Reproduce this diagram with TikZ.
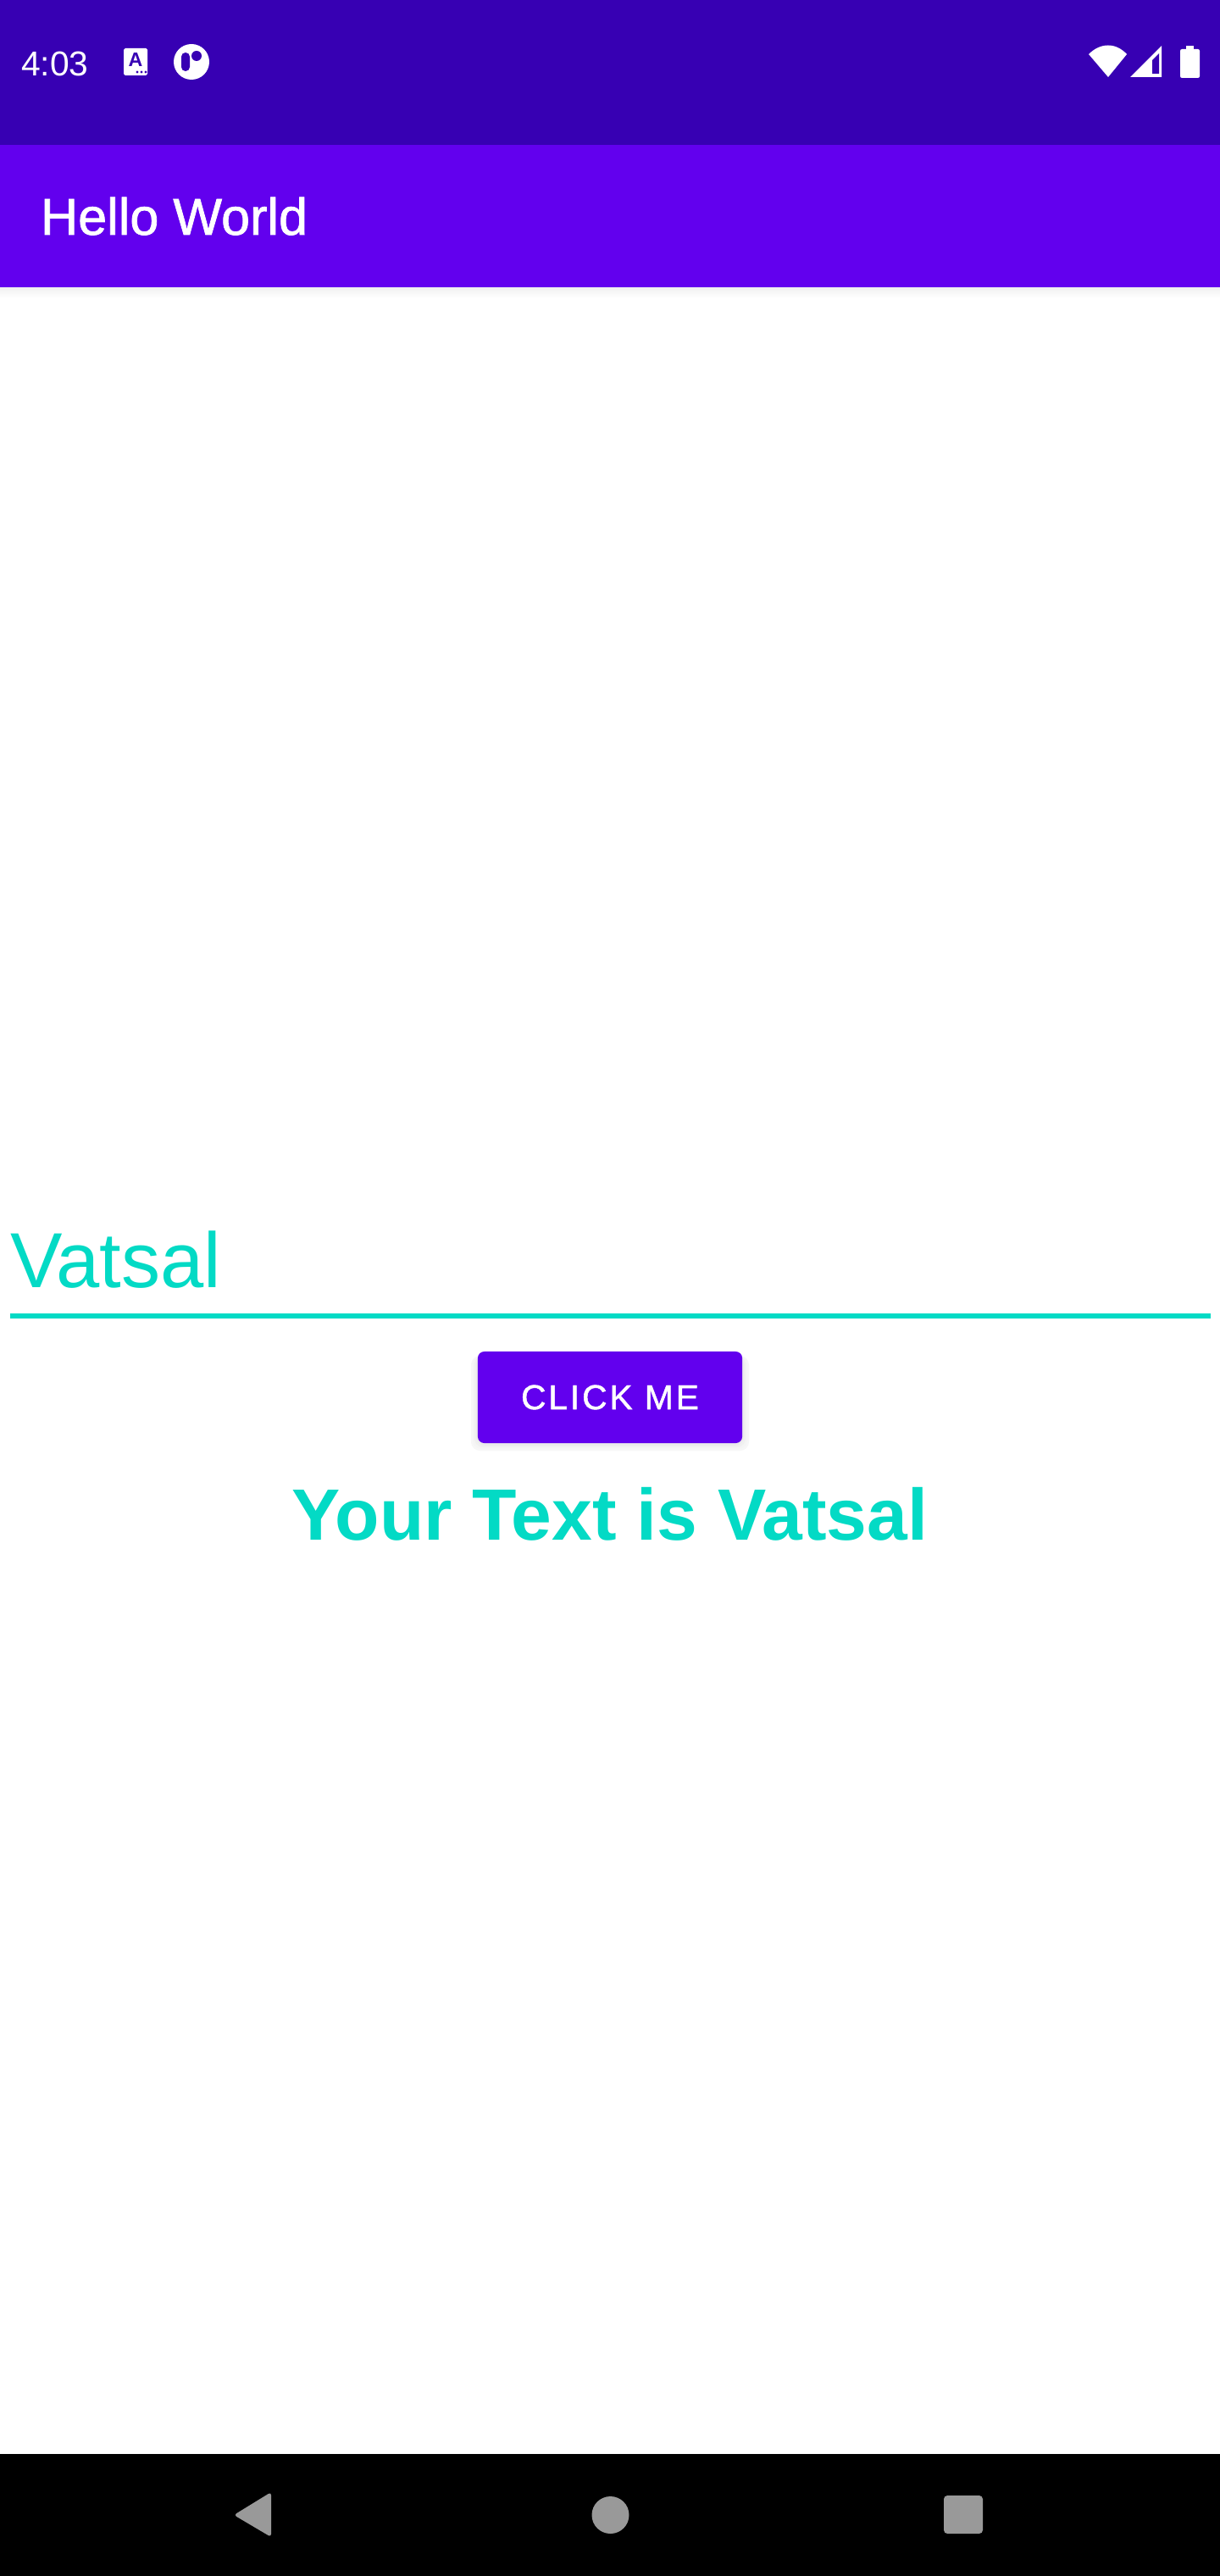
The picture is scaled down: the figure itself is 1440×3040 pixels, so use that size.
\documentclass[tikz,border=0pt]{standalone}
\usepackage{fontspec}
\setmainfont{Liberation Sans}
\newfontfamily\mediumfont[FakeBold=1.2]{Liberation Sans}
\newfontfamily\buttonfont[FakeBold=1.2,LetterSpace=7]{Liberation Sans}
\usetikzlibrary{positioning}
\definecolor{clrstatus}{HTML}{3700B3}
\definecolor{clrprimary}{HTML}{6200EE}
\definecolor{clraccent}{HTML}{03DAC5}
\definecolor{clrnavicon}{HTML}{999999}
\begin{document}
\begin{tikzpicture}[
    x=0.01cm, y=-0.01cm,
    every node/.style={inner sep=0, outer sep=0},
    bar/.style={draw=none, minimum width=14.4cm, anchor=north west},
    title/.style={anchor=base west, text=white, font=\mediumfont\fontsize{17.4}{20}\selectfont},
    clock/.style={anchor=base west, text=white, font=\fontsize{11.6}{14}\selectfont},
    field/.style={anchor=base west, text=clraccent, font=\fontsize{26.2}{30}\selectfont},
    result/.style={anchor=base, text=clraccent, font=\bfseries\fontsize{24.4}{30}\selectfont},
    button/.style={fill=clrprimary, rounded corners=2.2pt, minimum width=3.12cm, minimum height=1.08cm,
                   text=white, font=\buttonfont\fontsize{11.6}{14}\selectfont},
    glyph/.style={fill=white, draw=none},
    hole/.style={fill=clrstatus, draw=none},
    navicon/.style={fill=clrnavicon, draw=none},
]
\useasboundingbox (0,0) rectangle (1440,3040);
\fill[white] (0,0) rectangle (1440,3040);
\node[bar, fill=clrstatus, minimum height=1.71cm] (statusbar) at (0,0) {};
\node[bar, fill=clrprimary, minimum height=1.68cm, below=0pt of statusbar.south west, anchor=north west] (appbar) {};
\shade[top color=black!6, bottom color=white, draw=none] (appbar.south west) rectangle ([yshift=-0.12cm]appbar.south east);
\node[bar, fill=black, minimum height=1.44cm] (navbar) at (0,2896) {};
\node[clock] (time) at (25,90) {4:03};
\node[title] (apptitle) at (48,277) {Hello World};
\fill[glyph, rounded corners=0.5pt] (146,57) rectangle (174,89);
\node[text=clrstatus, font=\bfseries\fontsize{6.6}{8}\selectfont, anchor=base] (alerticon) at (160,79) {A};
\foreach \dotx in {162,167,172} \fill[hole] (\dotx,85) circle (1.6);
\fill[glyph] (226,73) circle (21);
\fill[hole, rounded corners=1.4pt] (214,62) rectangle (224,84);
\fill[hole] (232,66) circle (6);
\fill[glyph] (1308,91) -- (1285,64) .. controls (1299,50) and (1317,50) .. (1330,64) -- cycle;
\fill[glyph] (1334,91) -- (1371,54) -- (1371,91) -- cycle;
\fill[hole] (1360,87) -- (1368,87) -- (1368,63) -- (1360,71) -- cycle;
\fill[glyph, rounded corners=0.6pt] (1393,58) rectangle (1416,92);
\fill[glyph] (1400,54) rectangle (1409,60);
\node[field] (vatsalinput) at (12,1519) {Vatsal};
\node[fill=clraccent, minimum width=14.16cm, minimum height=0.06cm, anchor=north west] (underline) at (12,1550) {};
\foreach \spread/\shadeval in {8/3,6/4,4/6,2/8}
    \fill[black!\shadeval, rounded corners=3pt] (564-\spread,1600) rectangle (876+\spread,1704+\spread);
\node[button] (clickme) at (720,1649) {CLICK ME};
\node[result] (yourtext) at (720,1817) {Your Text is Vatsal};
\fill[navicon, rounded corners=1pt] (320,2941) -- (320,2994) -- (276,2968) -- cycle;
\fill[navicon] (720.5,2968) circle (22);
\fill[navicon, rounded corners=1.2pt] (1114,2945) rectangle (1160,2990);
\end{tikzpicture}
\end{document}
